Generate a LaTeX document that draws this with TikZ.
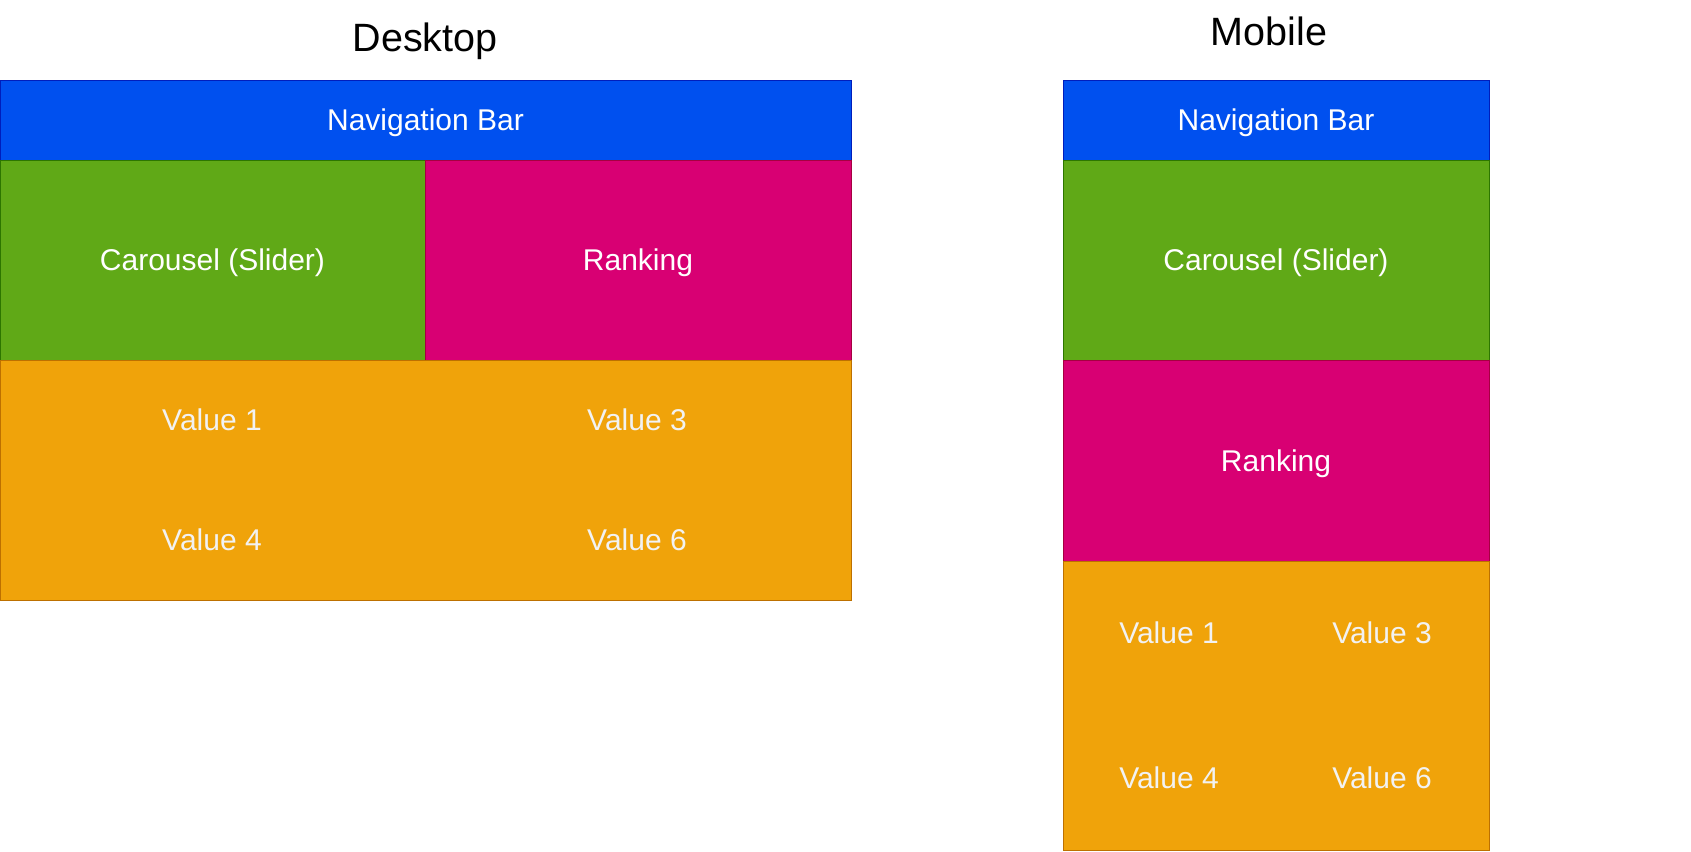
\documentclass[tikz,border=0pt]{standalone}
\usepackage{fontspec}
\setmainfont{Liberation Sans}
\usepackage{xcolor}
\usetikzlibrary{positioning}

\definecolor{navblue}{HTML}{0050EF}
\definecolor{navline}{HTML}{001DBC}
\definecolor{carogreen}{HTML}{60A917}
\definecolor{caroline}{HTML}{2D7600}
\definecolor{rankpink}{HTML}{D80073}
\definecolor{rankline}{HTML}{A50040}
\definecolor{valorange}{HTML}{F0A30A}
\definecolor{valline}{HTML}{BD7000}
\definecolor{valtext}{HTML}{F2F2F2}

\begin{document}
\begin{tikzpicture}[x=1pt, y=-1pt]
        \tikzstyle{block} = [rectangle, inner sep=0pt, outer sep=0pt, line width=1pt, anchor=north west, text=white, text depth=0pt, font=\fontsize{30}{36}\selectfont]
        \tikzstyle{navbox} = [block, draw=navline, fill=navblue, minimum height=80pt]
        \tikzstyle{carobox} = [block, draw=caroline, fill=carogreen, minimum height=200pt]
        \tikzstyle{rankbox} = [block, draw=rankline, fill=rankpink, minimum height=200pt]
        \tikzstyle{valbox} = [block, draw=valline, fill=valorange]
        \tikzstyle{value} = [text=valtext, font=\fontsize{30}{36}\selectfont]
        \tikzstyle{title} = [font=\fontsize{39.5}{46}\selectfont]

        \useasboundingbox (0,0) rectangle (1691,851);

        % --- Desktop ---
        \node [navbox, minimum width=851pt] (nav_d) at (0,80) {Navigation Bar};
        \node [carobox, minimum width=425pt] (caro_d) at (nav_d.south west) {Carousel (Slider)};
        \node [rankbox, minimum width=426pt] (rank_d) at (caro_d.north east) {Ranking};
        \node [valbox, minimum width=851pt, minimum height=240pt] (val_d) at (caro_d.south west) {};
        \node [title] (title_d) at (425,41) {Desktop};

        \node [value] (v1_d) at (212,420) {Value 1};
        \node [value] (v3_d) at (637,420) {Value 3};
        \node [value] (v4_d) at (212,540) {Value 4};
        \node [value] (v6_d) at (637,540) {Value 6};

        % --- Mobile ---
        \node [navbox, minimum width=426pt] (nav_m) at (1063,80) {Navigation Bar};
        \node [carobox, minimum width=426pt] (caro_m) at (nav_m.south west) {Carousel (Slider)};
        \node [rankbox, minimum width=426pt, minimum height=201pt] (rank_m) at (caro_m.south west) {Ranking};
        \node [valbox, minimum width=426pt, minimum height=289pt] (val_m) at (rank_m.south west) {};
        \node [title] (title_m) at (1269,31) {Mobile};

        \node [value] (v1_m) at (1169,633) {Value 1};
        \node [value] (v3_m) at (1382,633) {Value 3};
        \node [value] (v4_m) at (1169,778) {Value 4};
        \node [value] (v6_m) at (1382,778) {Value 6};

    \end{tikzpicture}
\end{document}
